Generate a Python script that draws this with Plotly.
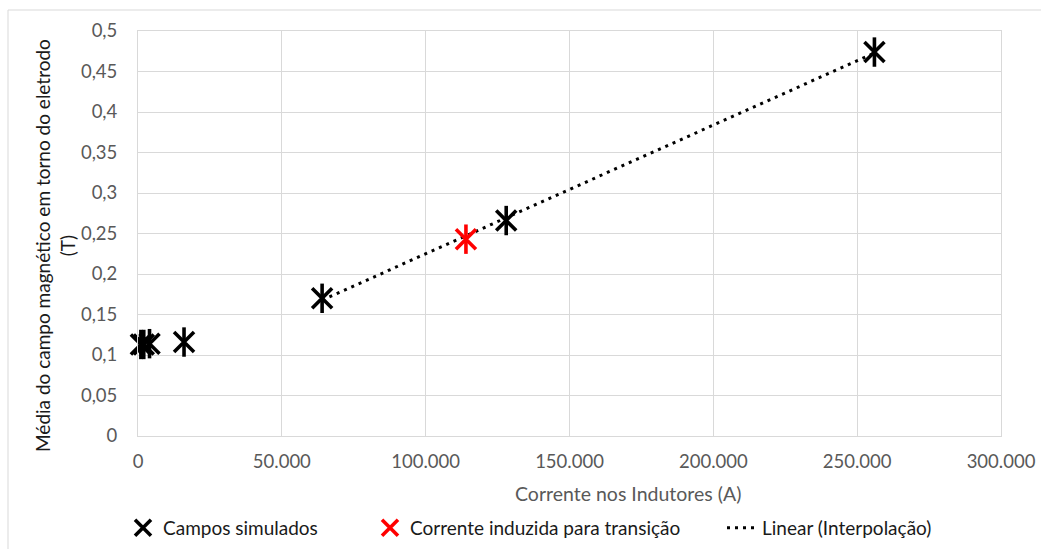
import numpy as np
import plotly.graph_objects as go

# Simulated fields: inductor current (A) vs. mean magnetic field (T)
corrente_sim = [1000, 2000, 4000, 16000, 64000, 128000, 256000]
campo_sim = [0.113, 0.113, 0.114, 0.116, 0.170, 0.266, 0.474]

# Induced current for the transition
corrente_trans = [114000]
campo_trans = [0.243]

# Points used for the linear interpolation
corrente_fit = [64000, 128000, 256000]
campo_fit = [0.170, 0.266, 0.474]

x_ticks = [0, 50000, 100000, 150000, 200000, 250000, 300000]
y_ticks = [0, 0.05, 0.1, 0.15, 0.2, 0.25, 0.3, 0.35, 0.4, 0.45, 0.5]

x_title = "Corrente nos Indutores (A)"
y_title = "Média do campo magnético em torno do eletrodo<br>(T)"

slope, intercept = np.polyfit(corrente_fit, campo_fit, 1)
x_line = np.array([min(corrente_fit), max(corrente_fit)])
y_line = slope * x_line + intercept

FONT = "Lato"
W, H = 1041, 549
L, R, T, B = 138, 40, 31, 113
PW, PH = W - L - R, H - T - B


def px_x(p):
    return (p - L) / PW


def px_y(p):
    return (H - B - p) / PH


fig = go.Figure()

# six-armed star marker = thin x + vertical bar
fig.add_trace(go.Scatter(
    x=x_line, y=y_line, mode="lines", name="Linear (Interpolação)",
    line=dict(color="black", width=3, dash="3px,5px"),
    legend="legend3", hoverinfo="skip",
))
fig.add_trace(go.Scatter(
    x=corrente_sim, y=campo_sim, mode="markers", name="Campos simulados",
    marker=dict(symbol="x-thin-open", size=20, color="black",
                line=dict(color="black", width=3.6)),
    legend="legend", cliponaxis=False, legendgroup="sim",
))
fig.add_trace(go.Scatter(
    x=corrente_sim, y=campo_sim, mode="markers", showlegend=False,
    marker=dict(symbol="line-ns-open", size=21, color="black",
                line=dict(color="black", width=3.6)),
    cliponaxis=False, legendgroup="sim", hoverinfo="skip",
))
fig.add_trace(go.Scatter(
    x=corrente_trans, y=campo_trans, mode="markers",
    name="Corrente induzida para transição",
    marker=dict(symbol="x-thin-open", size=20, color="#ff0000",
                line=dict(color="#ff0000", width=3.6)),
    legend="legend2", cliponaxis=False, legendgroup="trans",
))
fig.add_trace(go.Scatter(
    x=corrente_trans, y=campo_trans, mode="markers", showlegend=False,
    marker=dict(symbol="line-ns-open", size=21, color="#ff0000",
                line=dict(color="#ff0000", width=3.6)),
    cliponaxis=False, legendgroup="trans", hoverinfo="skip",
))

legend_common = dict(
    orientation="h", yanchor="middle", y=px_y(528), xanchor="left",
    font=dict(family=FONT, size=19, color="#1a1a1a"),
    bgcolor="rgba(0,0,0,0)", borderwidth=0,
)

fig.update_layout(
    width=W, height=H,
    margin=dict(l=L, r=R, t=T, b=B, autoexpand=False),
    paper_bgcolor="white", plot_bgcolor="white",
    separators=",.",
    font=dict(family=FONT, size=18, color="#595959"),
    legend=dict(x=px_x(123), **legend_common),
    legend2=dict(x=px_x(370), **legend_common),
    legend3=dict(x=px_x(722), **legend_common),
    xaxis=dict(
        range=[0, 300000], tickvals=x_ticks, tickformat=",d",
        showgrid=True, gridcolor="#d9d9d9", gridwidth=1,
        showline=True, linecolor="#d9d9d9", linewidth=1, mirror=True,
        zeroline=False, ticks="", ticklabelstandoff=9,
        tickfont=dict(family=FONT, size=18.5, color="#595959"),
        automargin=False,
    ),
    yaxis=dict(
        range=[0, 0.5], tickvals=y_ticks,
        showgrid=True, gridcolor="#d9d9d9", gridwidth=1,
        showline=True, linecolor="#d9d9d9", linewidth=1, mirror=True,
        zeroline=False, ticks="", ticklabelstandoff=16,
        tickfont=dict(family=FONT, size=18.5, color="#595959"),
        automargin=False,
    ),
    annotations=[
        dict(text=x_title, xref="paper", yref="paper",
             x=px_x(628), y=px_y(493), xanchor="center", yanchor="middle",
             showarrow=False,
             font=dict(family=FONT, size=19.5, color="#595959")),
        dict(text=y_title, xref="paper", yref="paper", textangle=-90,
             x=px_x(55), y=px_y(246), xanchor="center", yanchor="middle",
             showarrow=False, align="center",
             font=dict(family=FONT, size=19, color="#1a1a1a")),
    ],
    shapes=[
        dict(type="rect", xref="paper", yref="paper",
             x0=px_x(8), x1=px_x(W + 20), y0=px_y(H + 20), y1=px_y(10),
             line=dict(color="#d9d9d9", width=1), layer="below"),
    ],
)

fig.write_html("out.html")
